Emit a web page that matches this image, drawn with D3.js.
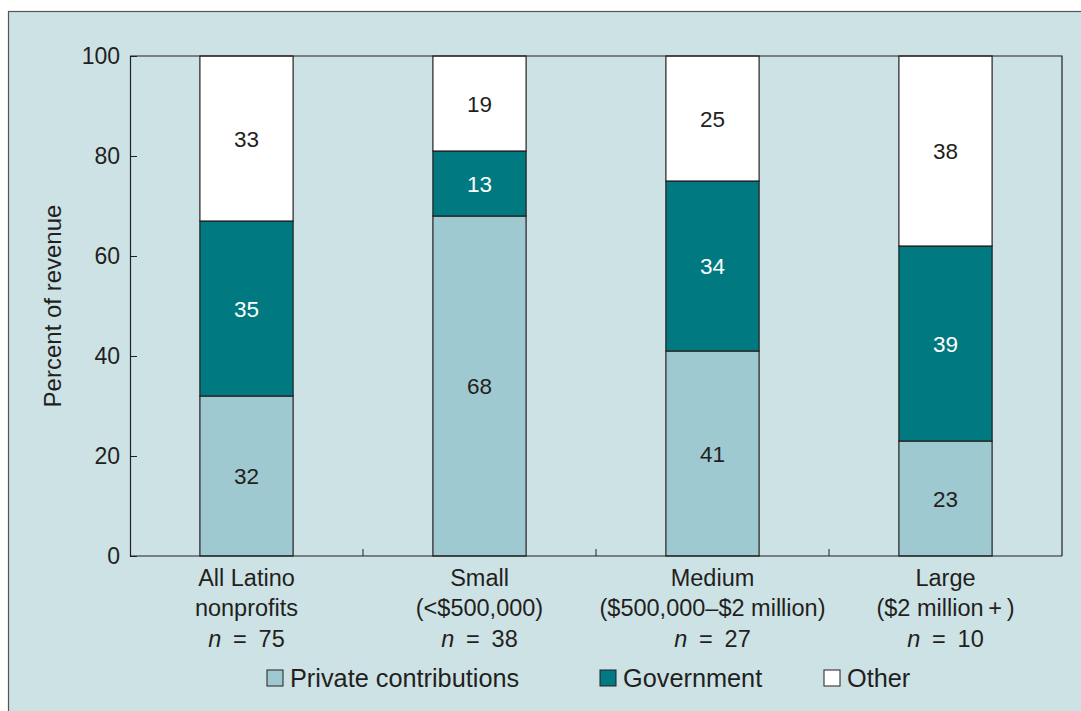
<!DOCTYPE html>
<html>
<head>
<meta charset="utf-8">
<title>Revenue sources of Latino nonprofits</title>
<script src="https://cdnjs.cloudflare.com/ajax/libs/d3/7.8.5/d3.min.js"></script>
<style>
  body { margin: 0; background: #fff; }
  text { font-family: "Liberation Sans", Arial, sans-serif; fill: #231f20; }
</style>
</head>
<body>
<svg id="chart" width="1081" height="711"></svg>
<script>
// data
var categories = ["All Latino", "Small", "Medium", "Large"];
var subLabels = ["nonprofits", "(<$500,000)", "($500,000\u2013$2 million)", "($2 million\u2009+\u2009)"];
var sampleN = [75, 38, 27, 10];
var seriesNames = ["Private contributions", "Government", "Other"];
var privateVals = [32, 68, 41, 23];
var governmentVals = [35, 13, 34, 39];
var otherVals = [33, 19, 25, 38];
var yTicks = [0, 20, 40, 60, 80, 100];

var colors = ["#9fc9d0", "#007a80", "#ffffff"];

var svg = d3.select("#chart");

// panel background and border
svg.append("rect")
    .attr("x", 8.5).attr("y", 11.5)
    .attr("width", 1100).attr("height", 720)
    .attr("fill", "#cde2e5")
    .attr("stroke", "#555").attr("stroke-width", 1.2);

var margin = {left: 130, top: 56, right: 1062, bottom: 556};

var x = d3.scaleBand()
    .domain(categories)
    .range([margin.left, margin.right])
    .paddingInner(0.6).paddingOuter(0.3);

var y = d3.scaleLinear().domain([0, 100]).range([margin.bottom, margin.top]);

// stack the table
var rows = categories.map(function(c, i) {
  return {cat: c, "Private contributions": privateVals[i],
          "Government": governmentVals[i], "Other": otherVals[i]};
});
var stacked = d3.stack().keys(seriesNames)(rows);

var g = svg.append("g");

stacked.forEach(function(layer, li) {
  var seg = g.selectAll(null).data(layer).enter();
  seg.append("rect")
      .attr("x", function(d) { return x(d.data.cat); })
      .attr("y", function(d) { return y(d[1]); })
      .attr("width", x.bandwidth())
      .attr("height", function(d) { return y(d[0]) - y(d[1]); })
      .attr("fill", colors[li])
      .attr("stroke", "#231f20").attr("stroke-width", 1.2);
  seg.append("text")
      .attr("x", function(d) { return x(d.data.cat) + x.bandwidth() / 2; })
      .attr("y", function(d) { return (y(d[0]) + y(d[1])) / 2; })
      .attr("dy", "0.36em")
      .attr("text-anchor", "middle")
      .style("font-size", "22.5px")
      .style("fill", li == 1 ? "#ffffff" : "#231f20")
      .text(function(d) { return d[1] - d[0]; });
});

// frame: top and right edges
svg.append("path")
    .attr("d", "M" + margin.left + "," + margin.top + "H" + margin.right + "V" + margin.bottom)
    .attr("fill", "none").attr("stroke", "#231f20").attr("stroke-width", 1.2);

// y axis, ticks pointing inward
var yAxis = svg.append("g")
    .attr("transform", "translate(" + margin.left + ",0)")
    .call(d3.axisRight(y).tickValues(yTicks).tickSize(7).tickFormat(""));
yAxis.select(".domain").attr("stroke", "#231f20").attr("stroke-width", 1.2);
yAxis.selectAll("line").attr("stroke", "#231f20");

svg.selectAll(".ylab").data(yTicks).enter().append("text")
    .attr("x", margin.left - 10)
    .attr("y", function(d) { return y(d); })
    .attr("dy", "0.36em")
    .attr("text-anchor", "end")
    .style("font-size", "23px")
    .text(function(d) { return d; });

// x axis with ticks between the bands
var step = x.step();
var boundaries = categories.slice(1).map(function(c) { return x(c) - step * x.paddingInner() / 2; });
svg.append("line")
    .attr("x1", margin.left).attr("x2", margin.right)
    .attr("y1", margin.bottom).attr("y2", margin.bottom)
    .attr("stroke", "#231f20").attr("stroke-width", 1.2);
svg.selectAll(".xtick").data(boundaries).enter().append("line")
    .attr("x1", function(d) { return d; }).attr("x2", function(d) { return d; })
    .attr("y1", margin.bottom).attr("y2", margin.bottom - 7)
    .attr("stroke", "#231f20");

var xl = svg.selectAll(".xlab").data(categories).enter().append("text")
    .attr("text-anchor", "middle")
    .style("font-size", "23.5px")
    .attr("transform", function(d) { return "translate(" + (x(d) + x.bandwidth() / 2) + ",585.5)"; });
xl.append("tspan").attr("x", 0).attr("y", 0).text(function(d) { return d; });
xl.append("tspan").attr("x", 0).attr("y", 30.5).text(function(d, i) { return subLabels[i]; });
var nl = xl.append("tspan").attr("x", 0).attr("y", 61);
nl.append("tspan").style("font-style", "italic").text("n");
nl.append("tspan").text(function(d, i) { return "\u2002=\u2002" + sampleN[i]; });

svg.append("text")
    .attr("transform", "translate(61,306) rotate(-90)")
    .attr("text-anchor", "middle")
    .style("font-size", "24px")
    .text("Percent of revenue");

// legend
var legendX = [267, 600, 824];
var lg = svg.selectAll(".leg").data(seriesNames).enter().append("g")
    .attr("transform", function(d, i) { return "translate(" + legendX[i] + ",670)"; });
lg.append("rect")
    .attr("width", 16).attr("height", 16)
    .attr("fill", function(d, i) { return colors[i]; })
    .attr("stroke", "#231f20").attr("stroke-width", 1);
lg.append("text")
    .attr("x", 23).attr("y", 8).attr("dy", "0.36em")
    .style("font-size", "25.3px")
    .text(function(d) { return d; });
</script>
</body>
</html>
